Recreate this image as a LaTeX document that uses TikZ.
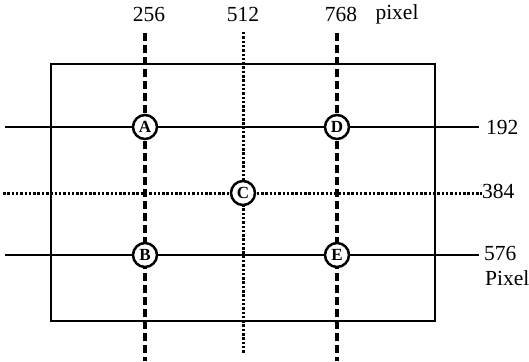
\documentclass[tikz,border=0pt]{standalone}
\usepackage{fontspec}
\setmainfont{Liberation Serif}
\begin{document}
\begin{tikzpicture}[x=1pt,y=-1pt,
  solidln/.style={line width=2.4pt},
  dashln/.style={line width=3.2pt,dash pattern=on 8pt off 4pt},
  dotln/.style={line width=3pt,dash pattern=on 2.5pt off 1.8pt},
  pt/.style={circle,draw,line width=2.5pt,fill=white,minimum size=24pt,inner sep=0pt,font=\fontsize{17}{17}\selectfont\bfseries},
  lbl/.style={font=\fontsize{21.5}{21.5}\selectfont,inner sep=0pt}]
\useasboundingbox (0,0) rectangle (529,361);
% frame
\draw[solidln] (51,64) rectangle (435,321);
% line ends
\coordinate (v1t) at (145,33); \coordinate (v1b) at (145,361);
\coordinate (v2t) at (243,32); \coordinate (v2b) at (243,354);
\coordinate (v3t) at (337,33); \coordinate (v3b) at (337,361);
\coordinate (h1l) at (5,127); \coordinate (h1r) at (479,127);
\coordinate (h2l) at (3,193); \coordinate (h2r) at (482,193);
\coordinate (h3l) at (5,255); \coordinate (h3r) at (479,255);
\draw[dashln] (v1t) -- (v1b);
\draw[dotln] (v2t) -- (v2b);
\draw[dashln] (v3t) -- (v3b);
\draw[solidln] (h1l) -- (h1r);
\draw[dotln] (h2l) -- (h2r);
\draw[solidln] (h3l) -- (h3r);
% points
\node[pt] (A) at (145,127) {A};
\node[pt] (D) at (337,127) {D};
\node[pt] (C) at (243,193) {C};
\node[pt] (B) at (145,255) {B};
\node[pt] (E) at (337,255) {E};
% labels
\node[lbl] (l256) at (149,14) {256};
\node[lbl] (l512) at (243,14) {512};
\node[lbl] (l768) at (341,14) {768};
\node[lbl] (lpx) at (397,14) {pixel};
\node[lbl,anchor=west] (l192) at (486,127) {192};
\node[lbl,anchor=west] (l384) at (482,191) {384};
\node[lbl,anchor=west] (l576) at (484,253) {576};
\node[lbl,anchor=west] (lPx) at (485,278) {Pixel};
\end{tikzpicture}
\end{document}
